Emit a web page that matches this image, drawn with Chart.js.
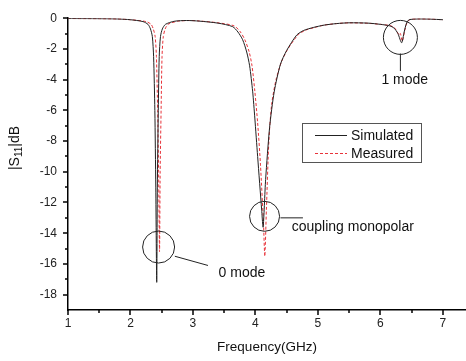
<!DOCTYPE html>
<html>
<head>
<meta charset="utf-8">
<script src="https://cdn.jsdelivr.net/npm/chart.js@4"></script>
<style>
  html, body { margin: 0; padding: 0; background: #fff; }
  #wrap { width: 466px; height: 361px; }
</style>
</head>
<body>
<div id="wrap"><canvas id="chart" width="466" height="361"></canvas></div>
<script>
/* =========================
   DATA
========================= */
const simFreq = [1.0, 1.5, 1.8, 2.0, 2.2, 2.28, 2.32, 2.35, 2.37, 2.39, 2.405, 2.42, 2.43, 2.445, 2.46, 2.48, 2.51, 2.56, 2.7, 2.9,
    3.1, 3.4, 3.635, 3.72, 3.795, 3.86, 3.907, 3.955, 3.99, 4.035, 4.1, 4.123, 4.163, 4.227, 4.3, 4.4, 4.5, 4.66, 4.77, 4.93,
    5.1, 5.3, 5.5, 5.8, 6.0, 6.15, 6.22, 6.28, 6.34, 6.38, 6.42, 6.46, 6.6, 6.8, 7.0];
const simDb = [-0.02, -0.03, -0.05, -0.1, -0.22, -0.4, -0.7, -1.2, -2.5, -6, -11, -17.2, -11, -6, -2.5, -1.2, -0.7, -0.4, -0.2, -0.15,
    -0.19, -0.32, -0.55, -0.9, -1.4, -2.2, -3.1, -4.75, -6.5, -9, -12.5, -13.6, -10.5, -7.1, -4.8, -3.0, -2.1, -1.1, -0.8, -0.6,
    -0.45, -0.35, -0.3, -0.32, -0.4, -0.5, -0.65, -1.0, -1.6, -0.9, -0.3, -0.1, -0.05, -0.06, -0.1];

const measFreq = [1.0, 1.5, 1.8, 2.0, 2.25, 2.33, 2.365, 2.395, 2.415, 2.435, 2.45, 2.465, 2.475, 2.49, 2.505, 2.525, 2.555, 2.6, 2.75, 2.95,
    3.1, 3.4, 3.66, 3.76, 3.83, 3.9, 3.945, 3.99, 4.035, 4.08, 4.13, 4.15, 4.175, 4.215, 4.26, 4.33, 4.42, 4.52, 4.68, 4.79, 4.95,
    5.1, 5.3, 5.5, 5.8, 6.0, 6.15, 6.22, 6.27, 6.3, 6.32, 6.35, 6.39, 6.43, 6.48, 6.6, 6.8, 7.0];
const measDb = [-0.02, -0.03, -0.05, -0.1, -0.22, -0.4, -0.7, -1.2, -2.5, -6, -10, -15.2, -10, -6, -2.5, -1.2, -0.7, -0.4, -0.2, -0.15,
    -0.18, -0.3, -0.5, -0.9, -1.4, -2.2, -3.1, -4.75, -6.8, -9.5, -13.5, -15.5, -12.5, -8, -5.6, -4.0, -2.8, -2.0, -1.1, -0.8, -0.6,
    -0.45, -0.35, -0.3, -0.33, -0.4, -0.48, -0.6, -0.9, -1.1, -1.0, -1.5, -0.8, -0.25, -0.08, -0.05, -0.06, -0.1];

const xMajor = [1, 2, 3, 4, 5, 6, 7];
const xMinor = [1.5, 2.5, 3.5, 4.5, 5.5, 6.5];
const yMajor = [0, -2, -4, -6, -8, -10, -12, -14, -16, -18];
const yMinor = [-1, -3, -5, -7, -9, -11, -13, -15, -17];

const seriesNames = ["Simulated", "Measured"];
const notes = [
    { label: "0 mode", cx: 2.45, cy: -14.9, r: 16, from: [2.71, -15.5], to: [3.24, -16.1], tx: 3.41, ty: -16.6, align: "left" },
    { label: "coupling monopolar", cx: 4.146, cy: -12.9, r: 15, from: [4.40, -13.0], to: [4.76, -13.0], tx: 4.58, ty: -13.6, align: "left" },
    { label: "1 mode", cx: 6.32, cy: -1.25, r: 17, from: [6.32, -2.3], to: [6.32, -3.44], tx: 6.39, ty: -4.06, align: "center" }
];

const FONT = "'Liberation Sans', Arial, sans-serif";

/* =========================
   EXTRA DRAWING
========================= */
const decorations = {
    id: "decorations",
    afterDraw(chart) {
        const ctx = chart.ctx;
        const xs = chart.scales.x;
        const ys = chart.scales.y;
        const area = chart.chartArea;

        ctx.save();
        ctx.strokeStyle = "#000";
        ctx.lineWidth = 1.5;

        // ticks (major + minor), outside
        xMajor.concat(xMinor).forEach(v => {
            const px = Math.round(xs.getPixelForValue(v));
            const len = xMajor.includes(v) ? 5 : 3;
            ctx.beginPath();
            ctx.moveTo(px, area.bottom);
            ctx.lineTo(px, area.bottom + len);
            ctx.stroke();
        });
        yMajor.concat(yMinor).forEach(v => {
            const py = Math.round(ys.getPixelForValue(v));
            const len = yMajor.includes(v) ? 5 : 3;
            ctx.beginPath();
            ctx.moveTo(area.left, py);
            ctx.lineTo(area.left - len, py);
            ctx.stroke();
        });

        // annotations
        ctx.strokeStyle = "#222";
        ctx.lineWidth = 1;
        ctx.fillStyle = "#111";
        ctx.font = "14px " + FONT;
        ctx.textBaseline = "middle";
        notes.forEach(n => {
            ctx.beginPath();
            ctx.arc(xs.getPixelForValue(n.cx), ys.getPixelForValue(n.cy), n.r, 0, Math.PI * 2);
            ctx.stroke();
            ctx.beginPath();
            ctx.moveTo(xs.getPixelForValue(n.from[0]), ys.getPixelForValue(n.from[1]));
            ctx.lineTo(xs.getPixelForValue(n.to[0]), ys.getPixelForValue(n.to[1]));
            ctx.stroke();
            ctx.textAlign = n.align;
            ctx.fillText(n.label, xs.getPixelForValue(n.tx), ys.getPixelForValue(n.ty));
        });

        // legend box
        ctx.strokeStyle = "#555";
        ctx.strokeRect(302.5, 123.5, 119, 39);
        ctx.textAlign = "left";
        chart.data.datasets.forEach((ds, i) => {
            const y = 135 + i * 18;
            ctx.strokeStyle = ds.borderColor;
            ctx.setLineDash(ds.borderDash || []);
            ctx.beginPath();
            ctx.moveTo(315, y + 0.5);
            ctx.lineTo(347, y + 0.5);
            ctx.stroke();
            ctx.setLineDash([]);
            ctx.fillText(seriesNames[i], 351, y + 1);
        });

        // axis titles
        ctx.font = "13.5px " + FONT;
        ctx.textAlign = "center";
        ctx.fillText("Frequency(GHz)", (area.left + area.right) / 2, 347);

        ctx.translate(15, 148);
        ctx.rotate(-Math.PI / 2);
        const p1 = "|S", p2 = "11", p3 = "|dB";
        ctx.font = "14px " + FONT;
        const w1 = ctx.measureText(p1).width;
        const w3 = ctx.measureText(p3).width;
        ctx.font = "10px " + FONT;
        const w2 = ctx.measureText(p2).width;
        const x0 = -(w1 + w2 + w3) / 2;
        ctx.textAlign = "left";
        ctx.font = "14px " + FONT;
        ctx.fillText(p1, x0, 0);
        ctx.font = "10px " + FONT;
        ctx.fillText(p2, x0 + w1, 4);
        ctx.font = "14px " + FONT;
        ctx.fillText(p3, x0 + w1 + w2, 0);
        ctx.restore();
    }
};

/* =========================
   CHART
========================= */
const simPoints = simFreq.map((f, i) => ({ x: f, y: simDb[i] }));
const measPoints = measFreq.map((f, i) => ({ x: f, y: measDb[i] }));

new Chart(document.getElementById("chart"), {
    type: "line",
    data: {
        datasets: [
            {
                label: seriesNames[0],
                data: simPoints,
                borderColor: "#222",
                borderWidth: 1,
                pointRadius: 0,
                tension: 0.25
            },
            {
                label: seriesNames[1],
                data: measPoints,
                borderColor: "#e8333a",
                borderWidth: 1,
                borderDash: [3, 2],
                pointRadius: 0,
                tension: 0.25
            }
        ]
    },
    options: {
        responsive: false,
        animation: false,
        layout: { padding: { top: 7, right: 0, left: 0, bottom: 0 } },
        plugins: { legend: { display: false }, tooltip: { enabled: false } },
        scales: {
            x: {
                type: "linear",
                min: 1,
                max: 7.37,
                afterFit: s => { s.height = 51; },
                afterBuildTicks: s => { s.ticks = xMajor.map(v => ({ value: v })); },
                grid: { display: false, drawTicks: false },
                border: { display: true, color: "#000", width: 1.5 },
                ticks: {
                    padding: 6,
                    color: "#222",
                    font: { family: FONT, size: 12 },
                    maxRotation: 0,
                    callback: v => String(v)
                }
            },
            y: {
                min: -19,
                max: 0,
                afterFit: s => { s.width = 68; },
                afterBuildTicks: s => { s.ticks = yMajor.map(v => ({ value: v })); },
                grid: { display: false, drawTicks: false },
                border: { display: true, color: "#000", width: 1.5 },
                ticks: {
                    padding: 11,
                    color: "#222",
                    font: { family: FONT, size: 12 },
                    callback: v => String(v)
                }
            }
        }
    },
    plugins: [decorations]
});
</script>
</body>
</html>
